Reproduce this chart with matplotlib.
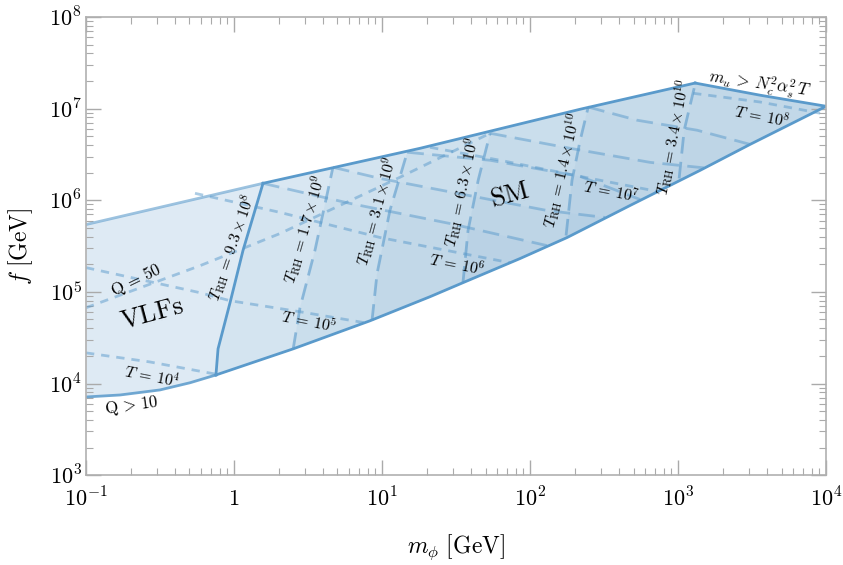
import numpy as np
import matplotlib
matplotlib.use("Agg")
import matplotlib.pyplot as plt

plt.rcParams['mathtext.fontset'] = 'cm'
plt.rcParams['font.family'] = ['DejaVu Serif']

C = '#5a9acb'

# outer region: upper edge (f max) and the m_u > Nc^2 as^2 T edge
top_m = [0.1, 1.57, 18.1, 218, 1303]
top_f = [5.43e5, 1.53e6, 3.69e6, 9.84e6, 1.90e7]
mu_m = [1303, 3580, 1e4]
mu_f = [1.90e7, 1.40e7, 1.06e7]
# lower edge: Q > 10 part, then the SM part
q10_m = [0.1, 0.170, 0.316, 0.505, 0.755]
q10_f = [7.13e3, 7.50e3, 8.51e3, 1.02e4, 1.24e4]
bot_m = [0.755, 2.51, 8.30, 21.1, 35.2, 85.5, 178, 474, 1409, 3065, 1e4]
bot_f = [1.24e4, 2.39e4, 4.84e4, 8.86e4, 1.26e5, 2.31e5, 3.92e5, 8.77e5, 2.12e6, 4.07e6, 1.06e7]

# reheating temperature contours (bottom -> top)
trh_labels = [r'$T_{\rm RH}\,=\,9.3\times10^{8}$', r'$T_{\rm RH}\,=\,1.7\times10^{9}$',
              r'$T_{\rm RH}\,=\,3.1\times10^{9}$', r'$T_{\rm RH}\,=\,6.3\times10^{9}$',
              r'$T_{\rm RH}\,=\,1.4\times10^{10}$', r'$T_{\rm RH}\,=\,3.4\times10^{10}$']
trh_m = [[0.755, 0.780, 0.940, 1.15, 1.57],
         [2.51, 2.79, 3.52, 4.66],
         [8.55, 9.25, 11.3, 14.8],
         [35.2, 38.1, 44.6, 53.7],
         [175, 192, 218, 247],
         [1016, 1099, 1303]]
trh_f = [[1.24e4, 2.39e4, 7.62e4, 2.83e5, 1.53e6],
         [2.39e4, 6.71e4, 2.83e5, 2.29e6],
         [4.84e4, 1.58e5, 7.73e5, 3.34e6],
         [1.26e5, 4.68e5, 1.65e6, 5.38e6],
         [4.12e5, 1.65e6, 4.51e6, 1.04e7],
         [1.73e6, 5.81e6, 1.85e7]]
trh_lab_m = [0.97, 3.02, 9.25, 34.7, 167, 940]
trh_lab_f = [3.05e5, 4.79e5, 7.53e5, 1.22e6, 2.12e6, 4.87e6]
trh_rot = [71, 74, 75, 78, 77, 79]

# temperature contours after reheating (long dashes), start at top of each T_RH line
ld_m = [[1.57, 6.08, 28.8, 130],
        [4.66, 9.68, 130, 321],
        [14.8, 53.7, 218, 553],
        [53.7, 186, 647, 1522],
        [247, 528, 1343, 3065]]
ld_f = [[1.53e6, 9.23e5, 5.57e5, 3.20e5],
        [2.29e6, 1.73e6, 7.73e5, 6.49e5],
        [3.34e6, 2.73e6, 1.82e6, 1.02e6],
        [5.38e6, 3.69e6, 2.59e6, 2.25e6],
        [1.04e7, 7.47e6, 5.81e6, 4.07e6]]

# T contours (short dashes)
t_labels = [r'$T\,=\,10^{4}$', r'$T\,=\,10^{5}$', r'$T\,=\,10^{6}$', r'$T\,=\,10^{7}$', r'$T\,=\,10^{8}$']
t_m = [[0.1, 0.270, 0.745],
       [0.1, 0.589, 0.940, 2.79, 7.67],
       [0.545, 2.05, 9.68, 73.3],
       [21.1, 62.7, 218, 721],
       [1262, 3580, 9100]]
t_f = [[2.16e4, 1.72e4, 1.27e4],
       [1.84e5, 9.80e4, 8.01e4, 6.07e4, 4.60e4],
       [1.19e6, 7.36e5, 3.92e5, 2.08e5],
       [3.78e6, 2.73e6, 1.82e6, 1.25e6],
       [1.47e7, 1.18e7, 8.91e6]]
t_lab_m = [0.279, 3.21, 32.1, 352, 3700]
t_lab_f = [1.18e4, 4.60e4, 1.99e5, 1.22e6, 8.05e6]

# Q = 50 contour
q50_m = [0.1, 0.589, 2.05, 13.2, 53.7]
q50_f = [6.71e4, 1.93e5, 4.34e5, 1.78e6, 5.38e6]


def lin(ms, fs):
    return np.log10(ms), np.log10(fs)


upper_x, upper_y = lin(top_m + mu_m[1:], top_f + mu_f[1:])
lower_x, lower_y = lin(q10_m + bot_m[1:], q10_f + bot_f[1:])


def upper(lx):
    return np.interp(lx, upper_x, upper_y)


def lower(lx):
    return np.interp(lx, lower_x, lower_y)


def region_right(ms, fs):
    # polygon right of a T_RH line inside the allowed region
    lx, ly = lin(ms, fs)
    xt = np.linspace(lx[-1], 4, 200)
    xb = np.linspace(4, lx[0], 200)
    px = np.concatenate([lx, xt, xb])
    py = np.concatenate([ly, upper(xt), lower(xb)])
    return 10 ** px, 10 ** py


def region_below(ms, fs, tm, tf):
    lx, ly = lin(ms, fs)
    tx, ty = lin(tm, tf)
    xb = np.linspace(lx[-1], tx[0], 200)
    px = np.concatenate([lx, xb, tx])
    py = np.concatenate([ly, lower(xb), ty])
    return 10 ** px, 10 ** py


fig = plt.figure(figsize=(8.43, 5.65), dpi=100)
ax = fig.add_axes([0.102, 0.159, 0.878, 0.811])
ax.set_xscale('log')
ax.set_yscale('log')

# fills
xs = np.linspace(-1, 4, 400)
ax.fill_between(10 ** xs, 10 ** lower(xs), 10 ** upper(xs), color=C, alpha=0.2, lw=0)
for ms, fs in zip(trh_m, trh_f):
    px, py = region_right(ms, fs)
    ax.fill(px, py, color=C, alpha=0.035, lw=0)
for i, (ms, fs) in enumerate(zip(ld_m, ld_f)):
    px, py = region_below(ms, fs, trh_m[i], trh_f[i])
    ax.fill(px, py, color=C, alpha=0.035, lw=0)

# boundaries
ax.plot(top_m[:2], top_f[:2], color=C, lw=2, alpha=0.6)
ax.plot(top_m[1:], top_f[1:], color=C, lw=2)
ax.plot(mu_m, mu_f, color=C, lw=2)
ax.plot(q10_m, q10_f, color=C, lw=2, alpha=0.85)
ax.plot(bot_m, bot_f, color=C, lw=2)

ax.plot(trh_m[0], trh_f[0], color=C, lw=2)
for ms, fs in zip(trh_m[1:], trh_f[1:]):
    ax.plot(ms, fs, color=C, lw=2, alpha=0.6, dashes=(6, 3))
for ms, fs in zip(ld_m, ld_f):
    ax.plot(ms, fs, color=C, lw=2, alpha=0.5, dashes=(6, 3))
for ms, fs in zip(t_m, t_f):
    ax.plot(ms, fs, color=C, lw=2, alpha=0.5, dashes=(3, 2.5))
ax.plot(q50_m, q50_f, color=C, lw=2, alpha=0.5, dashes=(3, 2.5))

# labels
for lab, m, f, r in zip(trh_labels, trh_lab_m, trh_lab_f, trh_rot):
    ax.text(m, f, lab, fontsize=11.5, rotation=r, ha='center', va='center', rotation_mode='anchor')
for lab, m, f in zip(t_labels, t_lab_m, t_lab_f):
    ax.text(m, f, lab, fontsize=11.5, rotation=-11, ha='center', va='center', rotation_mode='anchor')
ax.text(0.218, 1.33e5, r'$\mathrm{Q}\,=\,50$', fontsize=12, rotation=26, ha='center', va='center', rotation_mode='anchor')
ax.text(0.205, 5.7e3, r'$\mathrm{Q}\,>\,10$', fontsize=12, rotation=8, ha='center', va='center', rotation_mode='anchor')
ax.text(3580, 1.80e7, r'$m_u\,>\,N_c^2\alpha_s^2\,T$', fontsize=12, rotation=-8, ha='center', va='center', rotation_mode='anchor')
ax.text(0.279, 5.9e4, r'$\mathrm{VLFs}$', fontsize=19, rotation=15, ha='center', va='center', rotation_mode='anchor')
ax.text(73.3, 1.16e6, r'$\mathrm{SM}$', fontsize=19, rotation=15, ha='center', va='center', rotation_mode='anchor')

ax.set_xlim(0.1, 1e4)
ax.set_ylim(1e3, 1e8)
ax.set_xticks([0.1, 1, 10, 100, 1000, 1e4])
ax.set_xticklabels([r'$10^{-1}$', r'$1$', r'$10^{1}$', r'$10^{2}$', r'$10^{3}$', r'$10^{4}$'])
ax.set_yticks([1e3, 1e4, 1e5, 1e6, 1e7, 1e8])
ax.set_yticklabels([r'$10^{3}$', r'$10^{4}$', r'$10^{5}$', r'$10^{6}$', r'$10^{7}$', r'$10^{8}$'])
ax.xaxis.set_minor_locator(matplotlib.ticker.LogLocator(base=10, subs=np.arange(2, 10), numticks=20))
ax.yaxis.set_minor_locator(matplotlib.ticker.LogLocator(base=10, subs=np.arange(2, 10), numticks=20))
ax.xaxis.set_minor_formatter(matplotlib.ticker.NullFormatter())
ax.yaxis.set_minor_formatter(matplotlib.ticker.NullFormatter())
ax.tick_params(which='both', direction='in', top=True, right=True, color='#aaaaaa', labelsize=16)
ax.tick_params(which='major', length=11, width=1)
ax.tick_params(which='minor', length=5, width=0.8)
ax.tick_params(axis='x', pad=9)
ax.tick_params(axis='y', pad=3)
for s in ax.spines.values():
    s.set_color('#b0b0b0')
    s.set_linewidth(1.2)

ax.set_xlabel(r'$m_\phi\ [\mathrm{GeV}]$', fontsize=17, labelpad=15)
ax.set_ylabel(r'$f\ [\mathrm{GeV}]$', fontsize=17, labelpad=10)

fig.savefig('out.png', dpi=100)
